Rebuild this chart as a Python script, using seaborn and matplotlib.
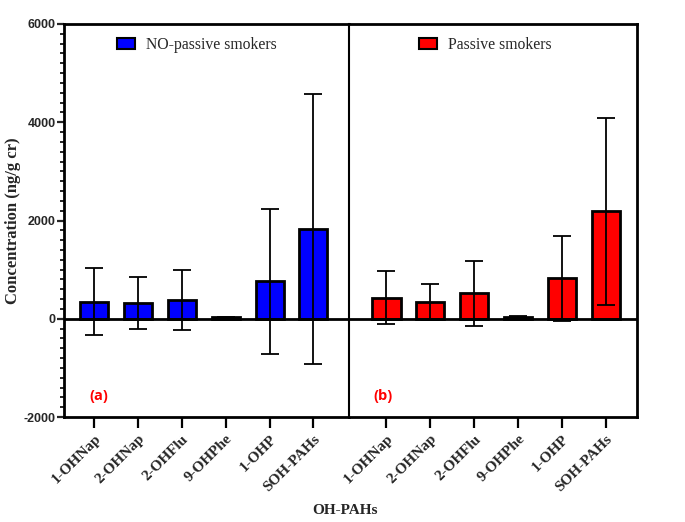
import matplotlib
matplotlib.use("Agg")
import matplotlib.pyplot as plt
import seaborn as sns
import numpy as np
import pandas as pd
from matplotlib.patches import Patch
from matplotlib.ticker import MultipleLocator

# ---- data ----
categories = ["1-OHNap", "2-OHNap", "2-OHFlu", "9-OHPhe", "1-OHP", "SOH-PAHs"]
nonpassive_mean = [345, 320, 375, 30, 760, 1830]
nonpassive_sd = [685, 530, 610, 10, 1480, 2750]
passive_mean = [430, 340, 520, 35, 820, 2190]
passive_sd = [535, 360, 660, 20, 860, 1900]
group_labels = ["NO-passive smokers", "Passive smokers"]
panel_tags = ["(a)", "(b)"]
y_ticks = [-2000, 0, 2000, 4000, 6000]

sns.set_theme(style="white")
plt.rcParams["font.family"] = ["Liberation Serif", "DejaVu Serif"]

fig = plt.figure(figsize=(6.85, 5.22), dpi=100)
gs = fig.add_gridspec(1, 2, width_ratios=[6.505, 6.555], wspace=0,
                      left=64/685, right=637/685, bottom=1-417/522, top=1-24/522)
ax1 = fig.add_subplot(gs[0])
ax2 = fig.add_subplot(gs[1], sharey=ax1)

panels = [
    (ax1, nonpassive_mean, nonpassive_sd, "#0000FF", group_labels[0], panel_tags[0], (-0.685, 5.82), 0.1, 0.464),
    (ax2, passive_mean, passive_sd, "#FF0000", group_labels[1], panel_tags[1], (-0.845, 5.71), -0.07, 0.472),
]

for ax, means, sds, col, lab, tag, xl, tagx, legx in panels:
    df = pd.DataFrame({"cat": categories, "val": means})
    sns.barplot(data=df, x="cat", y="val", color=col, saturation=1, width=0.64,
                edgecolor="black", linewidth=2, errorbar=None, ax=ax, zorder=2)
    ax.errorbar(np.arange(len(categories)), means, yerr=sds, fmt="none",
                ecolor="black", elinewidth=1.3, capsize=6.5, capthick=1.3, zorder=3)
    ax.axhline(0, color="black", lw=2, zorder=4)
    ax.set_xlim(*xl)
    ax.set_ylim(-2000, 6000)
    ax.set_xlabel("")
    ax.set_ylabel("")
    ax.set_xticks(range(len(categories)))
    ax.set_xticklabels(categories, rotation=45, ha="right", rotation_mode="anchor",
                       fontsize=11, fontweight="bold", family="Liberation Serif")
    ax.tick_params(axis="x", which="major", direction="out", length=8, width=1.6,
                   bottom=True, color="black", pad=3)
    for s in ax.spines.values():
        s.set_color("black")
        s.set_linewidth(2)
    ax.text(tagx, -1570, tag, color="#FF0000", fontsize=10.5, fontweight="bold",
            family="Open Sans", ha="center", va="center")
    handle = Patch(facecolor=col, edgecolor="black", linewidth=1.5, label=lab)
    ax.legend(handles=[handle], loc="center", bbox_to_anchor=(legx, 0.947),
              frameon=False, fontsize=11.3, handlelength=1.15, handleheight=0.75,
              handletextpad=0.7, borderpad=0)

# left panel y axis
ax1.set_yticks(y_ticks)
ax1.set_yticklabels([str(v) for v in y_ticks], fontsize=9, fontweight="bold",
                    family="Liberation Sans")
ax1.yaxis.set_minor_locator(MultipleLocator(200))
ax1.tick_params(axis="y", which="major", direction="out", length=5, width=1.6, left=True, pad=1)
ax1.tick_params(axis="y", which="minor", direction="out", length=3, width=1.4, left=True)
ax1.spines["right"].set_visible(False)
ax1.set_ylabel("Concentration (ng/g cr)", fontsize=12, fontweight="bold", labelpad=2)

ax2.spines["left"].set_linewidth(1.5)
ax2.tick_params(axis="y", which="both", left=False, labelleft=False)

fig.text(345/685, 1-511/522, "OH-PAHs", ha="center", va="center",
         fontsize=11, fontweight="bold")

fig.savefig("out.png", dpi=100)
